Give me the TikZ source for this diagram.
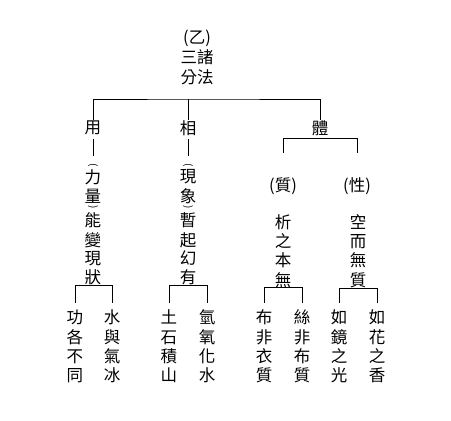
\documentclass[tikz,border=0pt]{standalone}
\usepackage{fontspec}
\newfontfamily\cjk{Noto Sans CJK TC}
\begin{document}
\begin{tikzpicture}[x=1pt,y=-1pt,
  t/.style={font=\cjk\fontsize{16.5}{19.2}\selectfont, inner sep=0.3pt, align=center},
  vp/.style={font=\cjk\fontsize{10}{10}\selectfont, inner sep=0pt, rotate=-90},
  leaf/.style={t, outer ysep=7pt},
  ln/.style={line width=0.9pt}]
\useasboundingbox[fill=white] (0,0) rectangle (451,421);
% title
\node[t, font=\cjk\fontsize{16.5}{20}\selectfont] (title) at (197,57) {(乙)\\三諸\\分法};
% level 1
\node[t] (yong) at (93,128) {用};
\node[t] (xiang) at (188,128) {相};
\node[t] (ti) at (320,128) {體};
\coordinate (bar) at (200,99);
\draw[ln] (yong.north) |- (bar) -| (ti.north);
\draw[ln] (xiang.north) -- (xiang.north |- bar);
% column yong
\node[vp] (a1) at (93,165) {(};
\foreach \ch/\yy [count=\i from 2] in {力/177,量/196}
  \node[t] (a\i) at (93,\yy) {\ch};
\node[vp] (a4) at (93,207.5) {)};
\foreach \ch/\yy [count=\i from 5] in {能/220,變/240,現/258.5,狀/277}
  \node[t] (a\i) at (93,\yy) {\ch};
\draw[ln, shorten <=3pt] (yong.south) -- (93,156);
% column xiang
\node[vp] (c1) at (188,165) {(};
\foreach \ch/\yy [count=\i from 2] in {現/177,象/196}
  \node[t] (c\i) at (188,\yy) {\ch};
\node[vp] (c4) at (188,207.5) {)};
\foreach \ch/\yy [count=\i from 5] in {暫/220,起/240,幻/258.5,有/277}
  \node[t] (c\i) at (188,\yy) {\ch};
\draw[ln, shorten <=3pt] (xiang.south) -- (188,156);
% body
\node[t] (zhi) at (283,186) {(質)};
\node[t] (xing) at (357,186) {(性)};
\coordinate (z1) at ([yshift=24pt]zhi.north);
\coordinate (z2) at ([yshift=24pt]xing.north);
\draw[ln] (z1) |- ([yshift=-2pt]ti.south) -| (z2);
\node[t] (b1) at (283,251) {析\\之\\本\\無};
\node[t] (b2) at (358,251) {空\\而\\無\\質};
% leaves
\node[leaf] (L1) at (75,346.5) {功\\各\\不\\同};
\node[leaf] (L2) at (112,346.5) {水\\與\\氣\\冰};
\node[leaf] (L3) at (169,346.5) {土\\石\\積\\山};
\node[leaf] (L4) at (207,346.5) {氫\\氧\\化\\水};
\node[leaf] (L5) at (264,346.5) {布\\非\\衣\\質};
\node[leaf] (L6) at (302,346.5) {絲\\非\\布\\質};
\node[leaf] (L7) at (339,346.5) {如\\鏡\\之\\光};
\node[leaf] (L8) at (377,346.5) {如\\花\\之\\香};
\draw[ln] (L1.north) |- (a8.south) -| (L2.north);
\draw[ln] (L3.north) |- (c8.south) -| (L4.north);
\draw[ln] (L5.north) |- (b1.south) -| (L6.north);
\draw[ln] (L7.north) |- (b2.south) -| (L8.north);
\end{tikzpicture}
\end{document}
